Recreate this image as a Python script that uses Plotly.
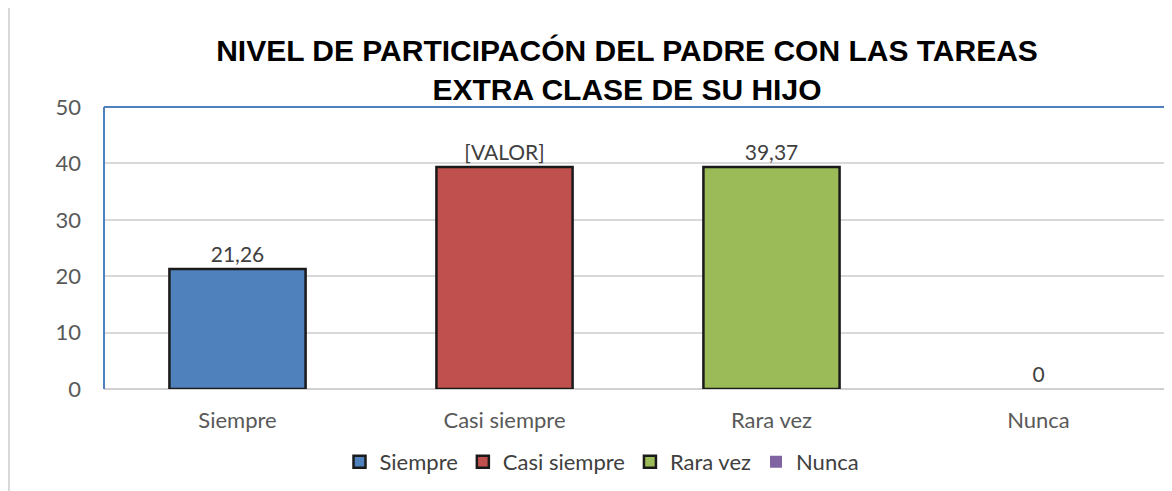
import plotly.graph_objects as go

categories = ["Siempre", "Casi siempre", "Rara vez", "Nunca"]
values = [21.26, 39.37, 39.37, 0]
value_labels = ["21,26", "[VALOR]", "39,37", "0"]
colors = ["#4F81BD", "#C0504D", "#9BBB59", "#8064A2"]
y_ticks = [0, 10, 20, 30, 40, 50]

# the page has an 8px body margin, so the figure is drawn 8px smaller
W, H = 1164, 483

fig = go.Figure()
for cat, val, lab, col in zip(categories, values, value_labels, colors):
    fig.add_trace(go.Bar(
        x=[cat], y=[val], name=cat,
        text=[lab], textposition="outside", cliponaxis=False,
        textfont=dict(family="Lato", size=21, color="#404040"),
        marker=dict(color=col, line=dict(color="#1a1a1a", width=2.5 if val > 0 else 0)),
        width=0.51,
    ))

fig.update_layout(
    width=W, height=H,
    margin=dict(l=96, r=0, t=99, b=102, autoexpand=False),
    paper_bgcolor="white", plot_bgcolor="white",
    barmode="overlay",
    title=dict(
        text="NIVEL DE PARTICIPACÓN DEL PADRE CON LAS TAREAS<br>EXTRA CLASE DE SU HIJO",
        x=619 / W, xanchor="center", xref="container",
        y=1 - 53 / H, yanchor="middle", yref="container",
        font=dict(family="Liberation Sans", size=30, color="black", weight="bold"),
    ),
    legend=dict(
        orientation="h", xref="container", x=594 / W, xanchor="center",
        yref="container", y=1 - 454 / H, yanchor="middle",
        font=dict(family="Lato", size=22, color="#404040"),
        bgcolor="rgba(0,0,0,0)", traceorder="normal",
    ),
    xaxis=dict(
        categoryorder="array", categoryarray=categories,
        showgrid=False, showline=False, zeroline=False, automargin=False,
        tickfont=dict(family="Lato", size=22, color="#595959"),
        ticklabelstandoff=16,
    ),
    yaxis=dict(
        range=[0, 50], tickvals=y_ticks, automargin=False,
        showgrid=True, gridcolor="#D9D9D9", gridwidth=1.5,
        zeroline=True, zerolinecolor="#D0D0D0", zerolinewidth=2,
        tickfont=dict(family="Lato", size=22, color="#595959"),
        ticklabelstandoff=22,
    ),
    shapes=[
        dict(type="line", xref="paper", yref="paper", x0=0, x1=1, y0=1, y1=1,
             line=dict(color="#4F81BD", width=2)),
        dict(type="line", xref="paper", yref="paper", x0=0, x1=0, y0=0, y1=1,
             line=dict(color="#4F81BD", width=2)),
        dict(type="line", xref="paper", yref="paper", x0=-95 / 1068, x1=-95 / 1068,
             y0=-1.5, y1=2.5, line=dict(color="#D9D9D9", width=2)),
    ],
)

fig.write_html("out.html")
